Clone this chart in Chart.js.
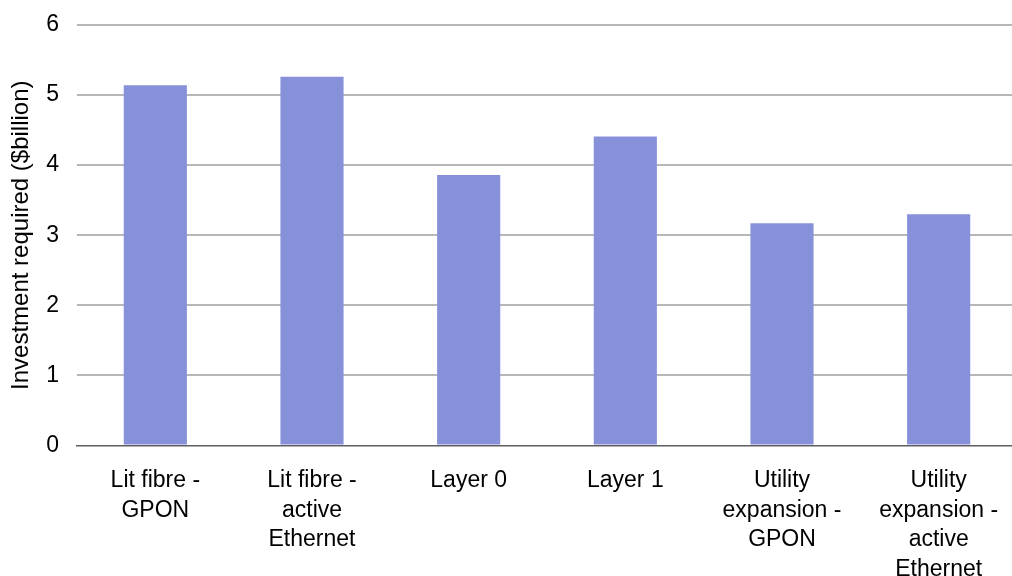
<!DOCTYPE html>
<html>
<head>
<meta charset="utf-8">
<script src="https://cdn.jsdelivr.net/npm/chart.js@4/dist/chart.umd.min.js"></script>
<style>
  html, body { margin: 0; padding: 0; background: #fff; overflow: hidden; }
  #wrap { position: relative; width: 1017px; height: 605px; }
</style>
</head>
<body>
<div id="wrap"><canvas id="chart"></canvas></div>
<script>
// Investment required per deployment option, in $billion
const categories = [
  ['Lit fibre -', 'GPON'],
  ['Lit fibre -', 'active', 'Ethernet'],
  'Layer 0',
  'Layer 1',
  ['Utility', 'expansion -', 'GPON'],
  ['Utility', 'expansion -', 'active', 'Ethernet']
];
const investment = [5.14, 5.26, 3.86, 4.41, 3.17, 3.30];
const yTicks = [0, 1, 2, 3, 4, 5, 6];
const yTitle = 'Investment required ($billion)';

const font = 'Liberation Sans, Arial, Helvetica, sans-serif';

new Chart(document.getElementById('chart'), {
  type: 'bar',
  data: {
    labels: categories,
    datasets: [{
      data: investment,
      backgroundColor: '#8791d9',
      borderWidth: 0,
      categoryPercentage: 1,
      barPercentage: 0.403
    }]
  },
  options: {
    responsive: true,
    maintainAspectRatio: false,
    animation: false,
    layout: { padding: { top: 25, right: 0, left: 7, bottom: 0 } },
    plugins: { legend: { display: false }, tooltip: { enabled: false } },
    scales: {
      x: {
        afterFit: axis => { axis.paddingLeft = 0; axis.paddingRight = 0; },
        grid: { display: false, drawTicks: false },
        border: { display: true, color: '#5f5f5f', width: 1.5 },
        ticks: {
          color: '#000',
          padding: 20,
          maxRotation: 0,
          autoSkip: false,
          font: { family: font, size: 23, lineHeight: 1.3 }
        }
      },
      y: {
        min: 0,
        max: 6,
        afterFit: axis => {
          axis.paddingTop = 0;
          axis.paddingBottom = 0;
          axis.width = 70;
        },
        afterBuildTicks: axis => { axis.ticks = yTicks.map(v => ({ value: v })); },
        grid: {
          drawTicks: false,
          color: ctx => ctx.tick && ctx.tick.value === 0 ? 'rgba(0,0,0,0)' : '#b7b7b7',
          lineWidth: 2
        },
        border: { display: false },
        ticks: {
          color: '#000',
          padding: 18,
          font: { family: font, size: 23 }
        },
        title: {
          display: true,
          text: yTitle,
          color: '#000',
          padding: { top: 0, bottom: 9 },
          font: { family: font, size: 24 }
        }
      }
    }
  }
});
</script>
</body>
</html>
